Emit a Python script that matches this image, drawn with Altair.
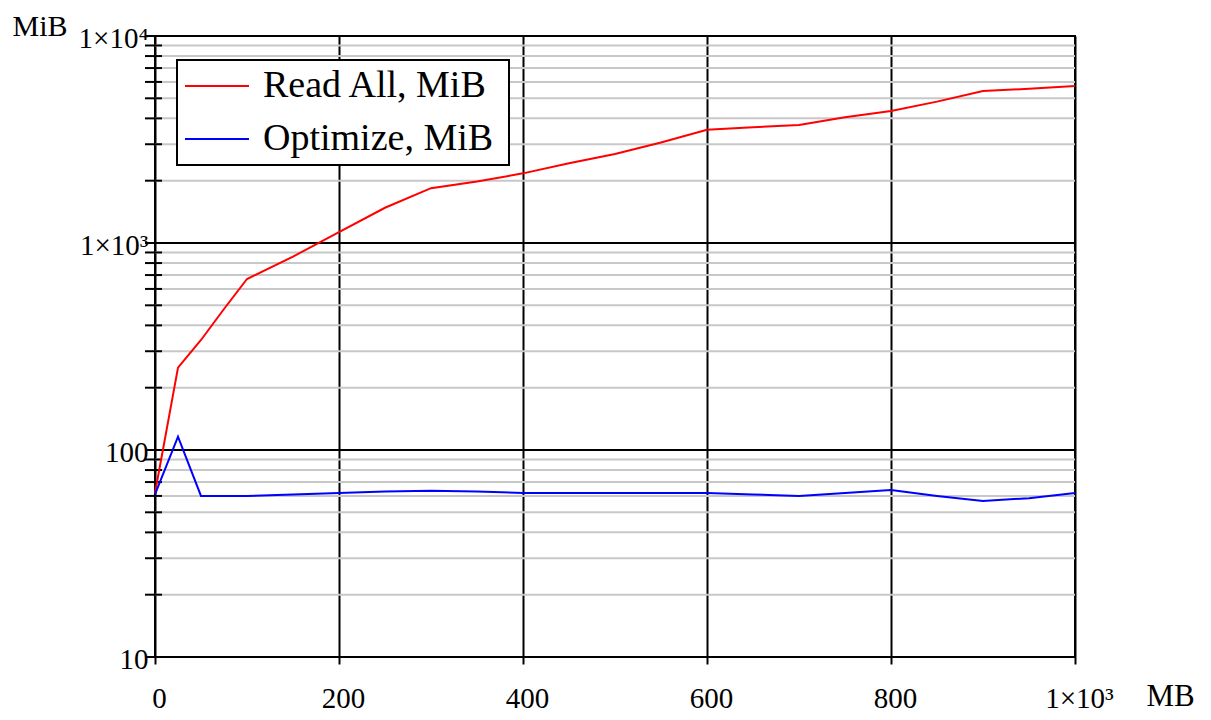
import altair as alt
import pandas as pd

# ---- data ----
size_mb = [0, 25, 50, 75, 100, 150, 200, 250, 300, 350, 400, 450, 500,
           550, 600, 650, 700, 750, 800, 850, 900, 950, 1000]
read_all_mib = [62, 250, 340, 480, 670, 860, 1130, 1480, 1840, 1980, 2170, 2430, 2690,
                3060, 3520, 3620, 3720, 4050, 4340, 4820, 5420, 5560, 5730]
optimize_mib = [61, 116, 60, 60, 60, 61, 62, 63, 63.5, 63, 62, 62, 62,
                62, 62, 61, 60, 62, 64, 60, 56.7, 58.5, 62]
series_names = ["Read All, MiB", "Optimize, MiB"]
series_colors = ["#ff0000", "#0000ff"]

x_ticks = [0, 200, 400, 600, 800, 1000]
y_major = [10, 100, 1000, 10000]
y_minor = [20, 30, 40, 50, 60, 70, 80, 90,
           200, 300, 400, 500, 600, 700, 800, 900,
           2000, 3000, 4000, 5000, 6000, 7000, 8000, 9000]

FONT = "Liberation Serif"

rows = []
for x, a, b in zip(size_mb, read_all_mib, optimize_mib):
    rows.append({"x": x, "y": a, "series": series_names[0]})
    rows.append({"x": x, "y": b, "series": series_names[1]})
df = pd.DataFrame(rows)
df_minor = pd.DataFrame({"v": y_minor})
df_major = pd.DataFrame({"v": y_major})
df_all_ticks = pd.DataFrame({"v": y_minor + y_major})

yscale = alt.Scale(type="log", domain=[10, 10000], nice=False)

minor_grid = alt.Chart(df_minor).mark_rule(color="#c8c8c8", strokeWidth=2).encode(
    y=alt.Y("v:Q", scale=yscale)
)
major_grid = alt.Chart(df_major).mark_rule(color="black", strokeWidth=2).encode(
    y=alt.Y("v:Q", scale=yscale)
)
yticks = alt.Chart(df_all_ticks).mark_rule(color="black", strokeWidth=2).encode(
    y=alt.Y("v:Q", scale=yscale),
    x=alt.value(-10),
    x2=alt.value(7),
)

lines = alt.Chart(df).mark_line(strokeWidth=2).encode(
    x=alt.X(
        "x:Q",
        scale=alt.Scale(domain=[0, 1000], nice=False),
        axis=alt.Axis(
            values=x_ticks,
            labelExpr="datum.value == 1000 ? '1×10³' : datum.label",
            labelFont=FONT, labelFontSize=29, labelColor="black",
            labelPadding=20, labelOffset=4, labelFlush=False,
            tickColor="black", tickWidth=2, tickSize=7,
            domain=False,
            grid=True, gridColor="black", gridWidth=2, gridOpacity=1,
            title="MB", titleFont=FONT, titleFontSize=31, titleFontWeight="normal",
            titleColor="black", titleX=991, titleY=48, titleAlign="left",
            titleBaseline="alphabetic", titleAnchor="start",
        ),
    ),
    y=alt.Y(
        "y:Q",
        scale=yscale,
        axis=alt.Axis(
            values=y_major,
            labelExpr="datum.value == 1000 ? '1×10³' : (datum.value == 10000 ? '1×10⁴' : datum.value + '')",
            labelFont=FONT, labelFontSize=29, labelColor="black",
            labelPadding=7, labelOffset=2, labelFlush=False,
            ticks=False, domain=False, grid=False,
            title="MiB", titleFont=FONT, titleFontSize=30, titleFontWeight="normal",
            titleColor="black", titleAngle=0, titleX=-143, titleY=-1,
            titleAlign="left", titleBaseline="alphabetic", titleAnchor="start",
        ),
    ),
    color=alt.Color(
        "series:N",
        scale=alt.Scale(domain=series_names, range=series_colors),
        legend=alt.Legend(
            title="\u2800", titleOrient="right", titleFontSize=12, titlePadding=0,
            orient="none", legendX=22, legendY=24,
            symbolType="stroke", symbolSize=4096, symbolStrokeWidth=2,
            clipHeight=38, rowPadding=15, labelOffset=13,
            labelFont=FONT, labelFontSize=38, labelColor="black",
            labelLimit=0,
            strokeColor="black", fillColor="white", padding=7,
        ),
    ),
)

chart = alt.layer(minor_grid, major_grid, yticks, lines).properties(
    width=920,
    height=621,
    padding={"left": 147, "top": 28, "right": 128, "bottom": 55},
    autosize=alt.AutoSizeParams(type="none"),
).configure_view(stroke="black", strokeWidth=2).configure_legend(strokeWidth=2)

chart.save("out.html", embed_options={"renderer": "svg", "actions": False})
